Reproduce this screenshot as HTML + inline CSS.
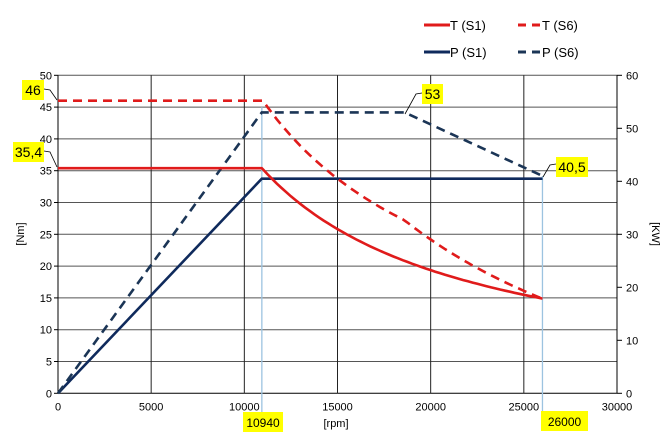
<!DOCTYPE html>
<html><head><meta charset="utf-8"><style>
body{margin:0;background:#fff;}
svg text{font-family:"Liberation Sans",sans-serif;font-size:11px;fill:#000;}
</style></head><body>
<svg id="s" width="660" height="438" xmlns="http://www.w3.org/2000/svg"></svg>
<script>
const X0=58,X1=617,Y0=393.3,Y1=75.3;
const sx=n=>X0+(X1-X0)*n/30000, sy=t=>Y0-(Y0-Y1)*t/50, sp=p=>Y0-(Y0-Y1)*p/60;
let h='';
for(let t=0;t<=50;t+=5){h+=`<line x1="${X0}" x2="${X1}" y1="${sy(t)}" y2="${sy(t)}" stroke="${t==0?'#000':'#555'}" stroke-width="1"/>`;
 h+=`<line x1="${X0-4}" x2="${X0}" y1="${sy(t)}" y2="${sy(t)}" stroke="#000"/><text x="${X0-6}" y="${sy(t)+4}" text-anchor="end">${t}</text>`;}
for(let n=0;n<=30000;n+=5000){h+=`<line x1="${sx(n)}" x2="${sx(n)}" y1="${Y1}" y2="${Y0}" stroke="#222"/>`;
 h+=`<text x="${sx(n)}" y="${Y0+17}" text-anchor="middle">${n}</text>`;}
for(let p=0;p<=60;p+=10){h+=`<line x1="${X1}" x2="${X1+5}" y1="${sp(p)}" y2="${sp(p)}" stroke="#000"/><text x="${X1+9}" y="${sp(p)+4}">${p}</text>`;}
h+=`<line x1="${X0}" x2="${X0}" y1="${Y1}" y2="${Y0}" stroke="#000"/><line x1="${X1}" x2="${X1}" y1="${Y1}" y2="${Y0}" stroke="#000"/>`;
// light blue verticals
h+=`<line x1="${sx(10940)}" x2="${sx(10940)}" y1="${sy(45)}" y2="413" stroke="#9cc3e0" stroke-width="1.3"/>`;
h+=`<line x1="${sx(26000)}" x2="${sx(26000)}" y1="${sp(41)}" y2="413" stroke="#9cc3e0" stroke-width="1.3"/>`;
function path(pts){return 'M'+pts.map(p=>p[0].toFixed(1)+','+p[1].toFixed(1)).join(' L');}
let ts1=[[sx(0),sy(35.4)],[sx(10940),sy(35.4)]];
for(let n=11000;n<=26000;n+=250)ts1.push([sx(n),sy(35.4*10940/n)]);
let ts6=[[sx(0),sy(46)],[sx(10940),sy(46)]];
for(let n=11000;n<=26000;n+=250){let P=n<=18600?53:53-(12.5)*(n-18600)/7400;ts6.push([sx(n),sy(P*9549/n)]);}
h+=`<path d="${path([[sx(0),sp(0)],[sx(10940),sp(40.5)],[sx(26000),sp(40.5)]])}" fill="none" stroke="#0f2a5c" stroke-width="2.6"/>`;
h+=`<path d="${path([[sx(0),sp(0)],[sx(10940),sp(53)],[sx(18600),sp(53)],[sx(26000),sp(41)]])}" fill="none" stroke="#1b3556" stroke-width="2.6" stroke-dasharray="9,6"/>`;
h+=`<path d="${path(ts1)}" fill="none" stroke="#e01b1b" stroke-width="2.6"/>`;
h+=`<path d="${path(ts6)}" fill="none" stroke="#e01b1b" stroke-width="2.6" stroke-dasharray="9,6"/>`;
// labels
function lab(x,y,w,t,fs){h+=`<rect x="${x}" y="${y}" width="${w}" height="20" fill="#ffff00"/><text x="${x+w/2}" y="${y+15}" text-anchor="middle" style="font-size:${fs}px">${t}</text>`;}
lab(22,80,22,'46',14);h+=`<polyline points="44,89 50,90 57,100" fill="none" stroke="#000" stroke-width="0.8"/>`;
lab(13,142,31,'35,4',14);h+=`<polyline points="44,151 50,152 57,167" fill="none" stroke="#000" stroke-width="0.8"/>`;
lab(422,84,21,'53',14);h+=`<polyline points="422,93 416,94 405,114" fill="none" stroke="#000" stroke-width="0.8"/>`;
lab(556,157,32,'40,5',14);h+=`<polyline points="556,164 550,165 543,177" fill="none" stroke="#000" stroke-width="0.8"/>`;
lab(243,412,40,'10940',12);lab(541,411,47,'26000',12);
h+=`<text x="336" y="427" text-anchor="middle">[rpm]</text>`;
h+=`<text transform="translate(24,234) rotate(-90)" text-anchor="middle">[Nm]</text>`;
h+=`<text transform="translate(652,234) rotate(90)" text-anchor="middle">[KW]</text>`;
// legend
h+=`<line x1="424" x2="450" y1="25" y2="25" stroke="#e01b1b" stroke-width="3"/><text x="450" y="30" style="font-size:13px">T (S1)</text>`;
h+=`<line x1="518" x2="542" y1="25" y2="25" stroke="#e01b1b" stroke-width="3" stroke-dasharray="8,6"/><text x="542" y="30" style="font-size:13px">T (S6)</text>`;
h+=`<line x1="424" x2="450" y1="52" y2="52" stroke="#0f2a5c" stroke-width="3"/><text x="450" y="57" style="font-size:13px">P (S1)</text>`;
h+=`<line x1="518" x2="542" y1="52" y2="52" stroke="#1b3556" stroke-width="3" stroke-dasharray="8,6"/><text x="542" y="57" style="font-size:13px">P (S6)</text>`;
document.getElementById('s').innerHTML=h;
</script>
</body></html>
